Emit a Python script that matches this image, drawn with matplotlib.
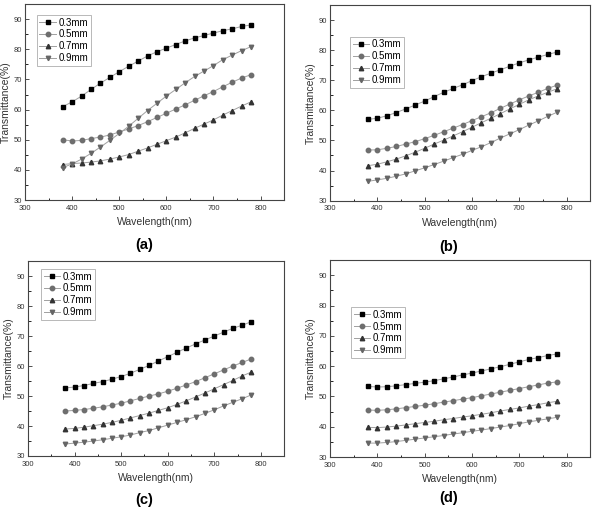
import matplotlib
matplotlib.use("Agg")
import matplotlib.pyplot as plt
import numpy as np

wavelength = np.arange(380, 781, 20)
thickness = ["0.3mm", "0.5mm", "0.7mm", "0.9mm"]
panel_labels = ["(a)", "(b)", "(c)", "(d)"]

a_03 = [61.0, 62.6, 64.5, 66.7, 68.8, 70.7, 72.6, 74.4, 76.1, 77.8, 79.2, 80.4, 81.6, 82.8, 83.8, 84.6, 85.4, 86.2, 86.8, 87.6, 88.1]
a_05 = [50.0, 49.6, 49.8, 50.4, 50.9, 51.6, 52.6, 53.6, 54.7, 56.0, 57.4, 58.8, 60.2, 61.6, 63.1, 64.6, 66.0, 67.6, 69.1, 70.5, 71.6]
a_07 = [41.8, 42.1, 42.3, 42.6, 43.0, 43.6, 44.3, 45.1, 46.2, 47.3, 48.5, 49.7, 50.9, 52.3, 53.8, 55.2, 56.6, 58.2, 59.7, 61.2, 62.6]
a_09 = [40.8, 42.0, 43.6, 45.5, 47.6, 49.8, 52.1, 54.5, 57.1, 59.7, 62.1, 64.5, 66.7, 68.9, 71.0, 72.8, 74.6, 76.6, 78.1, 79.6, 80.9]

b_03 = [57.0, 57.4, 58.2, 59.3, 60.5, 61.8, 63.1, 64.6, 66.0, 67.3, 68.5, 69.9, 71.2, 72.4, 73.5, 74.7, 75.8, 76.8, 77.7, 78.6, 79.4]
b_05 = [46.8, 46.9, 47.4, 48.0, 48.8, 49.6, 50.6, 51.7, 52.9, 54.1, 55.3, 56.6, 57.9, 59.2, 60.7, 62.1, 63.5, 64.8, 66.0, 67.3, 68.4]
b_07 = [41.6, 42.1, 42.9, 43.8, 44.9, 46.1, 47.4, 48.8, 50.1, 51.5, 52.9, 54.4, 55.9, 57.4, 58.9, 60.5, 62.0, 63.5, 64.8, 66.0, 67.2]
b_09 = [36.4, 36.9, 37.4, 38.1, 38.9, 39.9, 40.9, 42.0, 43.1, 44.3, 45.4, 46.7, 47.9, 49.3, 50.8, 52.2, 53.6, 55.1, 56.5, 58.0, 59.4]

c_03 = [52.7, 53.0, 53.5, 54.2, 54.8, 55.6, 56.5, 57.6, 58.9, 60.2, 61.7, 63.1, 64.6, 66.0, 67.4, 68.7, 70.0, 71.3, 72.6, 73.6, 74.8]
c_05 = [45.0, 45.2, 45.5, 45.9, 46.4, 47.0, 47.6, 48.4, 49.2, 50.0, 50.7, 51.6, 52.6, 53.7, 54.8, 56.1, 57.4, 58.7, 60.0, 61.2, 62.4]
c_07 = [39.0, 39.2, 39.6, 40.1, 40.6, 41.2, 41.9, 42.7, 43.5, 44.3, 45.2, 46.1, 47.2, 48.4, 49.7, 51.0, 52.4, 53.8, 55.2, 56.7, 58.0]
c_09 = [34.0, 34.3, 34.6, 35.0, 35.4, 35.9, 36.4, 37.0, 37.8, 38.5, 39.4, 40.3, 41.2, 42.1, 43.1, 44.2, 45.4, 46.7, 47.9, 49.1, 50.4]

d_03 = [53.3, 53.1, 53.2, 53.5, 53.9, 54.3, 54.7, 55.2, 55.8, 56.4, 57.1, 57.7, 58.4, 59.1, 59.8, 60.6, 61.4, 62.2, 62.8, 63.5, 64.0]
d_05 = [45.5, 45.4, 45.6, 45.9, 46.3, 46.7, 47.1, 47.6, 48.1, 48.6, 49.1, 49.6, 50.2, 50.8, 51.4, 52.0, 52.6, 53.2, 53.8, 54.4, 54.8]
d_07 = [39.8, 39.7, 39.9, 40.2, 40.6, 41.0, 41.4, 41.8, 42.3, 42.7, 43.2, 43.6, 44.1, 44.6, 45.2, 45.7, 46.2, 46.8, 47.3, 47.9, 48.4]
d_09 = [34.6, 34.6, 34.8, 35.1, 35.5, 35.9, 36.3, 36.7, 37.1, 37.6, 38.0, 38.5, 38.9, 39.4, 39.9, 40.4, 41.0, 41.6, 42.1, 42.6, 43.1]

panels = [
  [a_03, a_05, a_07, a_09],
  [b_03, b_05, b_07, b_09],
  [c_03, c_05, c_07, c_09],
  [d_03, d_05, d_07, d_09],
]

markers = ["s", "o", "^", "v"]
marker_colors = ["#000000", "#6e6e6e", "#333333", "#666666"]

# axes rectangles in figure fraction (left, bottom, width, height)
rects = [
  (0.042, 0.613, 0.433, 0.379),
  (0.552, 0.612, 0.435, 0.378),
  (0.047, 0.118, 0.428, 0.377),
  (0.552, 0.116, 0.435, 0.381),
]
legend_anchor = [(0.046, 0.944), (0.077, 0.837), (0.051, 0.959), (0.081, 0.761)]
label_pos = [(0.241, 0.526), (0.75, 0.522), (0.241, 0.033), (0.75, 0.037)]

plt.rcParams["font.family"] = "Liberation Sans"

fig = plt.figure(figsize=(5.98, 5.17), dpi=100)

for i, series in enumerate(panels):
  ax = fig.add_axes(rects[i])
  for j, values in enumerate(series):
    ax.plot(
      wavelength, values,
      color="#a0a0a0", linewidth=0.7,
      marker=markers[j], markersize=3.2,
      markerfacecolor=marker_colors[j], markeredgecolor=marker_colors[j],
      label=thickness[j],
    )
  ax.set_xlim(300, 850)
  ax.set_ylim(30, 95)
  ax.set_xticks([300, 400, 500, 600, 700, 800])
  ax.set_xticks([350, 450, 550, 650, 750, 850], minor=True)
  ax.set_yticks([30, 40, 50, 60, 70, 80, 90])
  ax.set_yticks([35, 45, 55, 65, 75, 85], minor=True)
  ax.tick_params(direction="in", labelsize=5.5, length=3, width=0.6, pad=2, colors="#333333")
  ax.tick_params(axis="x", pad=3.5)
  ax.tick_params(which="minor", direction="in", length=1.8, width=0.6)
  for s in ax.spines.values():
    s.set_linewidth(0.8)
    s.set_color("#444444")
  ax.set_xlabel("Wavelength(nm)", fontsize=7.5, color="#333333", labelpad=4)
  ax.set_ylabel("Transmittance(%)", fontsize=7.5, color="#333333", labelpad=2)
  leg = ax.legend(
    loc="upper left", bbox_to_anchor=legend_anchor[i],
    fontsize=7, frameon=True, fancybox=False,
    handlelength=1.7, handletextpad=0.3, borderpad=0.25, labelspacing=0.2,
    borderaxespad=0,
  )
  leg.get_frame().set_edgecolor("#999999")
  leg.get_frame().set_linewidth(0.6)
  fig.text(label_pos[i][0], label_pos[i][1], panel_labels[i],
           fontsize=10.5, fontweight="bold", ha="center", va="center")

fig.savefig("out.png", dpi=100)
